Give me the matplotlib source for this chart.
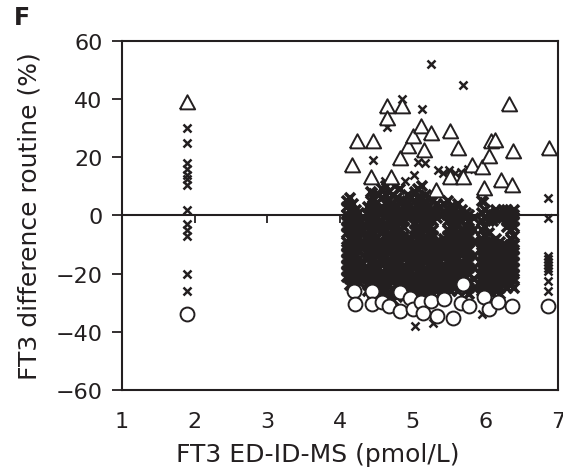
import matplotlib
matplotlib.use("Agg")
import matplotlib.pyplot as plt

INK = "#231f20"
plt.rcParams["font.family"] = ["DejaVu Sans"]

# ---- FT3: routine method difference (%) versus ED-ID-MS reference (pmol/L) ----

# single low sample
low_x = 1.90
low_y = [30, 25, 18, 16, 14, 12.5, 10.5, 2, -3, -5, -7, -20, -26]

# crosses, grouped in narrow concentration columns
band_a_x = [4.10, 4.14, 4.18, 4.22, 4.26, 4.29]
band_a_y = [
    [5, 3, 0, -2, -4, -6, -9, -11, -13, -15, -17, -19, -21],
    [6, 2, -1, -3, -5, -8, -10, -12, -14, -16, -18, -20, -22, -24],
    [4, 1, -1, -4, -6, -7, -9, -11, -13, -15, -17, -19, -22, -23],
    [2, 0, -2, -5, -7, -9, -12, -14, -16, -18, -20, -21, -25],
    [1, -3, -5, -8, -10, -12, -15, -17, -19, -21, -23],
    [-2, -6, -11, -16, -20],
]

band_b_x = [4.38, 4.42, 4.46, 4.50, 4.54]
band_b_y = [
    [3, 0, -2, -4, -7, -9, -11, -13, -15, -18, -20, -22, -24, -26],
    [8, 5, 2, 0, -3, -5, -7, -10, -12, -14, -16, -19, -21, -23, -25],
    [6, 3, 1, -1, -4, -6, -8, -11, -13, -15, -17, -20, -22, -24, -27],
    [4, 2, -1, -3, -5, -8, -10, -12, -14, -17, -19, -21, -23, -26],
    [7, 1, -4, -9, -13, -18, -22, -25],
]

band_c_x = [4.58, 4.63, 4.68, 4.73, 4.78, 4.83, 4.88, 4.93, 4.98, 5.03,
            5.08, 5.13, 5.18, 5.23, 5.28, 5.33, 5.38, 5.43, 5.48, 5.53,
            5.58, 5.63, 5.68, 5.73, 5.78, 5.84]
band_c_y = [
    [9, 6, 3, 1, -2, -4, -6, -9, -11, -13, -15, -17, -20, -22, -24, -26],
    [10, 7, 4, 2, 0, -3, -5, -7, -9, -12, -14, -16, -18, -21, -23, -25, -28],
    [8, 5, 3, 0, -2, -4, -7, -9, -11, -13, -16, -18, -20, -22, -24, -27],
    [7, 4, 2, -1, -3, -5, -8, -10, -12, -14, -17, -19, -21, -23, -26, -29],
    [6, 3, 1, -1, -4, -6, -8, -11, -13, -15, -17, -19, -22, -24, -26, -28],
    [9, 5, 2, 0, -2, -5, -7, -9, -12, -14, -16, -18, -20, -23, -25],
    [5, 3, 0, -2, -4, -7, -9, -11, -13, -15, -18, -20, -22, -24, -27],
    [7, 4, 1, -1, -8, -10, -12, -14, -16, -19, -21, -23, -25, -27],
    [6, 2, 0, -8, -10, -13, -15, -17, -19, -21, -23, -25, -27],
    [8, 5, 2, 0, -3, -5, -7, -10, -12, -14, -16, -18, -21, -23, -25, -27],
    [9, 6, 3, 1, -1, -4, -6, -8, -11, -13, -15, -17, -19, -22, -24, -26],
    [10, 6, 4, 1, -1, -3, -6, -8, -10, -12, -15, -17, -19, -21, -24, -26, -28],
    [7, 4, 2, -1, -3, -5, -8, -10, -12, -14, -16, -19, -21, -23, -25, -27],
    [6, 3, 1, -2, -4, -6, -9, -11, -13, -15, -17, -20, -22, -24, -26, -28],
    [5, 2, 0, -2, -5, -7, -9, -12, -14, -16, -18, -20, -23, -25, -27],
    [4, 1, -1, -9, -11, -13, -15, -17, -20, -22, -24, -26],
    [3, 0, -9, -11, -13, -16, -18, -20, -22, -24, -27],
    [4, 1, -8, -10, -12, -14, -17, -19, -21, -23, -25],
    [5, 2, 0, -2, -5, -7, -9, -11, -14, -16, -18, -20, -22, -25],
    [3, 1, -1, -4, -6, -8, -10, -13, -15, -17, -19, -21, -24, -26],
    [2, -1, -3, -5, -7, -10, -12, -14, -16, -18, -21, -23, -25],
    [4, 1, -1, -3, -6, -8, -10, -12, -15, -17, -19, -21, -23, -26],
    [2, 0, -2, -5, -7, -9, -11, -13, -16, -18, -20, -22, -25],
    [1, -1, -4, -6, -8, -10, -13, -15, -17, -19, -21, -24, -26],
    [0, -2, -5, -7, -9, -12, -14, -16, -18, -20, -23, -25, -27],
    [-1, -5, -9, -14, -18, -22, -25],
]

band_d_x = [5.95, 6.00, 6.05, 6.10, 6.15, 6.20, 6.25, 6.30, 6.35, 6.40]
band_d_y = [
    [5, 1, -2, -5, -8, -10, -12, -14, -16, -18, -20, -22, -24, -26],
    [2, -1, -4, -7, -9, -11, -13, -15, -17, -19, -21, -23, -25, -27],
    [1, -2, -6, -9, -11, -13, -15, -17, -19, -21, -23, -25],
    [0, -2, -9, -11, -13, -15, -17, -19, -21, -23, -25, -27],
    [2, 0, -8, -10, -12, -14, -16, -18, -20, -22, -24, -26],
    [1, -1, -9, -11, -13, -15, -17, -19, -21, -23, -25, -27],
    [2, -1, -10, -12, -14, -16, -18, -20, -22, -24],
    [2, 0, -2, -4, -11, -13, -15, -17, -19, -21, -23, -25],
    [1, -1, -3, -5, -8, -10, -12, -14, -16, -18, -20, -22, -24],
    [2, 0, -2, -4, -7, -10, -12, -14, -16, -18, -20, -22, -25],
]

high_x = 6.86
high_y = [6, -1, -14, -15, -16, -17, -18, -19, -22.5, -26]

# scattered crosses outside the main cloud
scatter_x = [5.25, 5.69, 4.86, 5.13, 4.65, 4.46, 5.08, 5.35, 5.42, 5.50,
             5.58, 5.66, 5.76, 4.46, 5.98, 4.62, 4.75, 4.90, 5.02, 5.17,
             5.03, 5.28, 5.95]
scatter_y = [52, 45, 40, 36.5, 30.5, 19, 18.4, 15.5, 14.5, 15.5,
             14.5, 15, 16, 8, 5, 12, 10, 12, 14, 18,
             -38, -37, -34]

# flagged samples
tri_x = [1.90, 4.17, 4.24, 4.46, 4.42, 4.70, 4.64, 4.64, 4.86, 4.83,
         4.94, 5.00, 5.11, 5.25, 5.15, 5.32, 5.52, 5.62, 5.52, 5.69,
         5.82, 5.96, 6.05, 6.08, 6.14, 6.38, 5.98, 6.21, 6.37, 6.32,
         6.88]
tri_y = [39, 17.5, 25.5, 25.5, 13.4, 13.4, 37.8, 33.5, 37.7, 19.8,
         23.8, 27.5, 30.7, 28.5, 22.6, 8.7, 29, 23.3, 13.3, 13.3,
         17.4, 16.8, 20.3, 25.5, 26, 22, 9.4, 12.2, 10.4, 38.3,
         23.3]

circ_x = [1.89, 4.19, 4.21, 4.44, 4.44, 4.58, 4.67, 4.83, 4.83, 4.96,
          5.00, 5.11, 5.14, 5.25, 5.34, 5.43, 5.55, 5.66, 5.69, 5.77,
          5.98, 6.05, 6.17, 6.37, 6.86]
circ_y = [-34, -25.9, -30.5, -25.9, -30.5, -29.8, -31.1, -26.4, -32.8, -28.3,
          -32.2, -29.8, -33.4, -29.4, -34.6, -28.8, -35.1, -30, -23.6, -31.1,
          -28.1, -32.2, -29.8, -31.1, -31.1]

# ---- assemble cross coordinates ----
cloud_x, cloud_y = [], []
for xs, ys in ((band_a_x, band_a_y), (band_b_x, band_b_y),
               (band_c_x, band_c_y), (band_d_x, band_d_y)):
    for xv, col in zip(xs, ys):
        cloud_x += [xv] * len(col)
        cloud_y += col

sparse_x = [low_x] * len(low_y) + [high_x] * len(high_y) + scatter_x
sparse_y = low_y + high_y + scatter_y

fig = plt.figure(figsize=(5.63, 4.77), dpi=100)
ax = fig.add_axes([0.2167, 0.1803, 0.7744, 0.7317])

# overlapping crosses in the crowded range merge into a dark mass
ax.plot(cloud_x, cloud_y, linestyle="none", marker="x", markersize=7,
        markeredgewidth=2.6, color=INK, zorder=2)
ax.plot(sparse_x, sparse_y, linestyle="none", marker="x", markersize=5.4,
        markeredgewidth=1.8, color=INK, zorder=2)

tri_marker = [(-1, -0.9), (1, -0.9), (0, 0.95), (-1, -0.9)]
ax.plot(tri_x, tri_y, linestyle="none", marker=tri_marker, markersize=11,
        markerfacecolor="white", markeredgecolor=INK, markeredgewidth=1.4,
        zorder=3)
ax.plot(circ_x, circ_y, linestyle="none", marker="o", markersize=10,
        markerfacecolor="white", markeredgecolor=INK, markeredgewidth=1.4,
        zorder=4)

ax.set_xlim(1, 7)
ax.set_ylim(-60, 60)
ax.set_yticks(range(-60, 61, 20))
ax.set_xticks(range(1, 8))

for side in ax.spines.values():
    side.set_color(INK)
    side.set_linewidth(1.5)

ax.tick_params(axis="y", direction="out", length=7, width=1.3, pad=7,
               colors=INK, labelsize=16)
ax.tick_params(axis="x", length=0, pad=15, colors=INK, labelsize=16)

# horizontal axis line crossing at zero, with its tick marks
zero_axis = ax.secondary_xaxis(0.5)
zero_axis.set_xticks(range(1, 8))
zero_axis.tick_params(axis="x", direction="in", length=6, width=1.3,
                      colors=INK, labeltop=False, labelbottom=False)
for side in zero_axis.spines.values():
    side.set_color(INK)
    side.set_linewidth(1.5)

ax.set_xlabel("FT3 ED-ID-MS (pmol/L)", fontsize=18, color=INK)
ax.xaxis.set_label_coords(0.45, -0.15)
ax.set_ylabel("FT3 difference routine (%)", fontsize=18, color=INK)
ax.yaxis.label.set_va("center")
ax.yaxis.set_label_coords(-0.213, 0.5)

fig.text(14 / 563, 1 - 6 / 477, "F", ha="left", va="top", fontsize=17,
         fontweight="bold", color=INK)

fig.savefig("out.png", dpi=100)
